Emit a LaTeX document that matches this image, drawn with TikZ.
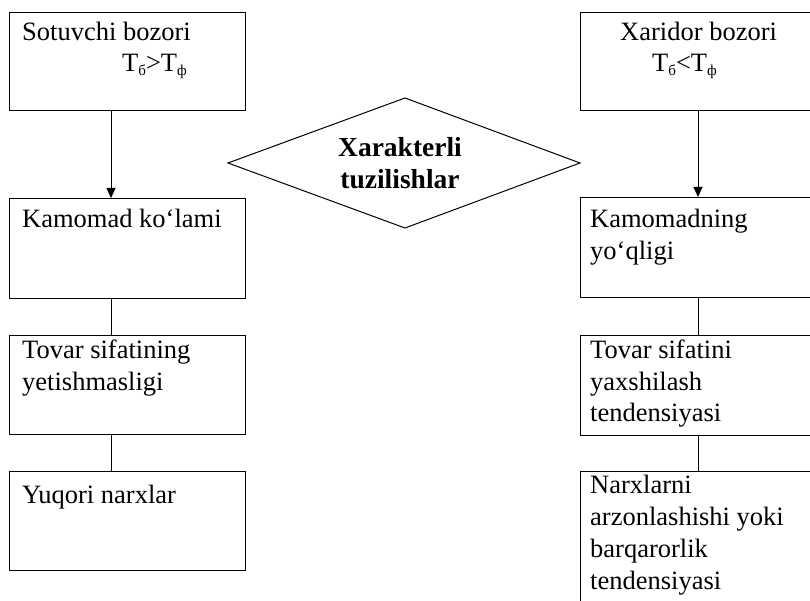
\documentclass[tikz,border=0pt]{standalone}
\usepackage{fontspec}
\setmainfont{Liberation Serif}
\usetikzlibrary{arrows.meta}
\newcommand{\mysub}[1]{\raisebox{-0.3ex}{\fontsize{15}{15}\selectfont #1}}
\begin{document}
\begin{tikzpicture}[x=1pt,y=-1pt,
  box/.style={draw, line width=1pt, rectangle, inner sep=0pt, anchor=north west},
  txt/.style={anchor=base west, inner sep=0pt, font=\fontsize{26.5}{32}\selectfont},
  btxt/.style={anchor=base, inner sep=0pt, font=\fontsize{27.5}{32}\selectfont\bfseries},
  conn/.style={line width=1pt},
  arr/.style={line width=1pt,-{Triangle[length=10pt,width=9pt]}}]
\useasboundingbox (0,0) rectangle (810,601);
\clip (0,0) rectangle (810,601);
% left column
\node[box, minimum width=236, minimum height=98] (L1) at (9,12) {};
\node[box, minimum width=236, minimum height=100] (L2) at (9,198) {};
\node[box, minimum width=236, minimum height=99] (L3) at (9,335) {};
\node[box, minimum width=236, minimum height=99] (L4) at (9,471) {};
% right column
\node[box, minimum width=260, minimum height=98] (R1) at (580,12) {};
\node[box, minimum width=260, minimum height=100] (R2) at (580,197) {};
\node[box, minimum width=260, minimum height=100] (R3) at (580,335) {};
\node[box, minimum width=260, minimum height=160] (R4) at (580,471) {};
% diamond
\coordinate (DW) at (228,163);
\coordinate (DN) at (405,98);
\coordinate (DE) at (580,163);
\coordinate (DS) at (405,228);
\draw[conn] (DW) -- (DN) -- (DE) -- (DS) -- cycle;
\node[btxt] (D1) at (400,157) {Xarakterli};
\node[btxt] (D2) at (400,189) {tuzilishlar};
% connectors
\coordinate (Lx) at (111,0);
\coordinate (Rx) at (698,0);
\draw[arr] (L1.south -| Lx) -- (L2.north -| Lx);
\draw[conn] (L2.south -| Lx) -- (L3.north -| Lx);
\draw[conn] (L3.south -| Lx) -- (L4.north -| Lx);
\draw[arr] (R1.south -| Rx) -- (R2.north -| Rx);
\draw[conn] (R2.south -| Rx) -- (R3.north -| Rx);
\draw[conn] (R3.south -| Rx) -- (R4.north -| Rx);
% texts left
\node[txt] (t1) at (22,41) {Sotuvchi bozori};
\node[txt] (t2) at (122,72) {T\mysub{б}>T\mysub{ф}};
\node[txt] (t3) at (22,228) {Kamomad ko`lami};
\node[txt] (t4) at (22,358) {Tovar sifatining};
\node[txt] (t5) at (22,390) {yetishmasligi};
\node[txt] (t6) at (22,503) {Yuqori narxlar};
% texts right
\node[txt] (u1) at (620,41) {Xaridor bozori};
\node[txt] (u2) at (652,72) {T\mysub{б}<T\mysub{ф}};
\node[txt] (u3) at (590,228) {Kamomadning};
\node[txt] (u4) at (590,260) {yo‘qligi};
\node[txt] (u5) at (590,358) {Tovar sifatini};
\node[txt] (u6) at (590,390) {yaxshilash};
\node[txt] (u7) at (590,421) {tendensiyasi};
\node[txt] (u8) at (590,493) {Narxlarni};
\node[txt] (u9) at (590,525) {arzonlashishi yoki};
\node[txt] (u10) at (590,557) {barqarorlik};
\node[txt] (u11) at (590,589) {tendensiyasi};
\end{tikzpicture}
\end{document}
